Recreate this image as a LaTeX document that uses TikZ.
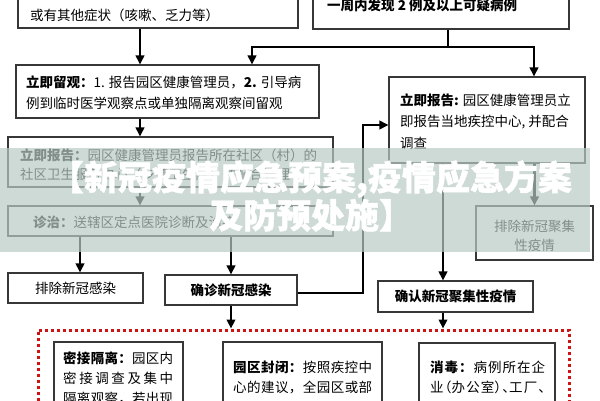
\documentclass[tikz,border=0pt]{standalone}
\usepackage{fontspec}
\setmainfont{Noto Sans CJK SC}
\newfontfamily\titlefont[BoldFeatures={FakeBold=1.2}]{Noto Sans CJK SC}
\usetikzlibrary{arrows.meta}
\definecolor{boxc}{RGB}{55,55,55}
\definecolor{redd}{RGB}{204,20,20}
\definecolor{bandc}{RGB}{185,203,196}
\tikzset{
  box/.style={draw=boxc, line width=1.1pt, fill=white, inner sep=0pt},
  txt/.style={inner sep=0pt, anchor=west, font=\fontsize{13.5}{16}\selectfont},
  ctxt/.style={inner sep=0pt, font=\fontsize{13.5}{16}\selectfont},
  conn/.style={line width=2.5pt, line join=miter},
  arr/.style={conn, -{Triangle[length=9pt,width=8.5pt]}},
  dotbox/.style={draw=redd, line width=3pt, dash pattern=on 3pt off 3pt, inner sep=0pt},
}
\newcommand\spreadline[2]{\makebox[#1][s]{#2}}
\newcommand\gp{\hfil}
\begin{document}
\begin{tikzpicture}[x=1pt,y=-1pt]
\useasboundingbox (0,0) rectangle (600,400);
\clip (0,0) rectangle (600,400);
\fill[white] (0,0) rectangle (600,400);
% boxes
\node[box, minimum width=280pt, minimum height=48pt] (tl) at (158,4) {};
\node[box, minimum width=256pt, minimum height=49pt] (tr) at (441,4.5) {};
\node[box, minimum width=303pt, minimum height=53pt] (lg) at (167.5,91.5) {};
\node[box, minimum width=196pt, minimum height=86pt] (rb) at (487,120) {};
\node[box, minimum width=325pt, minimum height=50pt] (lr) at (170.5,162) {};
\node[box, minimum width=325pt, minimum height=30pt] (zz) at (170.5,221) {};
\node[box, minimum width=135pt, minimum height=30pt] (pc) at (75.5,288) {};
\node[box, minimum width=132pt, minimum height=30pt] (qz) at (231,290) {};
\node[box, minimum width=155pt, minimum height=31pt] (qr) at (455.5,296.5) {};
\node[box, minimum width=117pt, minimum height=54pt] (pj) at (534.5,233) {};
\node[dotbox, minimum width=531pt, minimum height=100pt] (rd) at (303.5,380) {};
\node[box, minimum width=129pt, minimum height=90pt] (mj) at (118.5,387) {};
\node[box, minimum width=159pt, minimum height=90pt] (yq) at (302.5,387) {};
\node[box, minimum width=136pt, minimum height=90pt] (xd) at (487,388) {};
% texts
\node[txt] (t1) at (30,15) {或有其他症状（咳嗽、乏力等）};
\node[txt] (t2) at (327,5) {\bfseries 一周内发现 2 例及以上可疑病例};
\node[txt] (t3) at (26,82) {\textbf{立即留观：}1. 报告园区健康管理员，\textbf{2.} 引导病};
\node[txt] (t4) at (26,103) {例到临时医学观察点或单独隔离观察间留观};
\node[txt] (t5) at (400,100) {\textbf{立即报告:} 园区健康管理员立};
\node[txt] (t6) at (400,122) {即报告当地疾控中心, 并配合};
\node[txt] (t7) at (400,143) {调查};
\node[txt] (t8) at (20,155) {\textbf{立即报告：}园区健康管理员报告所在社区（村）的};
\node[txt] (t9) at (20,174) {社区卫生服务中心（乡镇卫生院）并配合管理};
\node[txt] (t10) at (33,222) {\textbf{诊治：}送辖区定点医院诊断及治疗};
\node[ctxt] (t11) at (pc.center) {排除新冠感染};
\node[ctxt] (t12) at (qz.center) {\bfseries 确诊新冠感染};
\node[ctxt] (t13) at (qr.center) {\bfseries 确认新冠聚集性疫情};
\node[ctxt] (t14) at (534.5,226) {排除新冠聚集};
\node[ctxt] (t15) at (534.5,245) {性疫情};
\node[txt] (t16) at (63,358) {\spreadline{110pt}{\textbf{密\gp 接\gp 隔\gp 离\gp ：}\gp 园\gp 区\gp 内}};
\node[txt] (t17) at (63,378) {\spreadline{110pt}{密\gp 接\gp 调\gp 查\gp 及\gp 集\gp 中}};
\node[txt] (t18) at (63,398) {\spreadline{110pt}{隔\gp 离\gp 观\gp 察\gp ，\gp 若\gp 出\gp 现}};
\node[txt] (t19) at (233,367) {\spreadline{139pt}{\textbf{园\gp 区\gp 封\gp 闭\gp ：}\gp 按\gp 照\gp 疾\gp 控\gp 中}};
\node[txt] (t20) at (233,387) {\spreadline{139pt}{心\gp 的\gp 建\gp 议\gp ，\gp 全\gp 园\gp 区\gp 或\gp 部}};
\node[txt] (t21) at (430,367) {\spreadline{115pt}{\textbf{消\gp 毒\gp ：}\gp 病\gp 例\gp 所\gp 在\gp 企}};
\node[txt] (t22) at (430,387) {\spreadline{115pt}{\addfontfeature{RawFeature=+halt}业\gp（办\gp 公\gp 室）\gp 、工\gp 厂\gp 、}};
% helper coordinates
\coordinate (a140) at (140,0);
\coordinate (a80) at (80,0);
\coordinate (b443) at (443,0);
\coordinate (j1) at (448,47);
\coordinate (j2) at (252,47);
\coordinate (j3) at (534,47);
\coordinate (k1) at (363,293);
\coordinate (k2) at (363,125);
% connectors
\draw[arr] (a140 |- tl.south) -- (a140 |- lg.north);
\draw[conn] (tr.south -| j1) -- (j1);
\draw[arr] (j1) -- (j2) -- (j2 |- lg.north);
\draw[arr] (j1) -- (j3) -- (j3 |- rb.north);
\draw[arr] (a140 |- lg.south) -- (a140 |- lr.north);
\draw[arr] (a140 |- lr.south) -- (a140 |- zz.north);
\draw[arr] (a80 |- zz.south) -- (a80 |- pc.north);
\draw[arr] (qz.north |- zz.south) -- (qz.north);
\draw[arr] (qz.east |- k1) -- (k1) -- (k2) -- (rb.west |- k2);
\draw[arr] (b443 |- rb.south) -- (b443 |- qr.north);
\draw[arr] (pj.north |- rb.south) -- (pj.north);
\draw[arr] (qz.south) -- (qz.south |- rd.north);
\draw[arr] (b443 |- qr.south) -- (b443 |- rd.north);
% overlay band and title
\fill[bandc, opacity=0.7] (0,148) rectangle (590,252);
\node[text=white, align=center, inner sep=0pt, font=\titlefont\fontsize{34}{34}\selectfont\bfseries] (title) at (311,196) {【新冠疫情应急预案,疫情应急方案\\及防预处施】};
\end{tikzpicture}
\end{document}
